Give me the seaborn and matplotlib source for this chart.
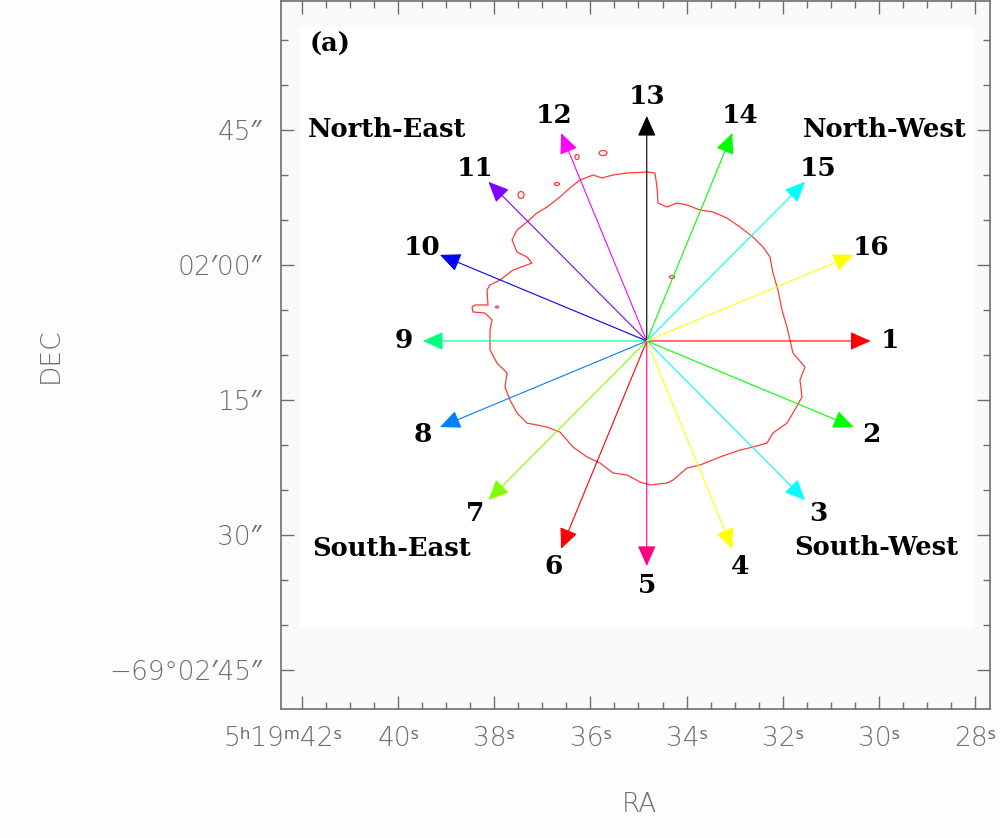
import numpy as np
import pandas as pd
import matplotlib
matplotlib.use("Agg")
import matplotlib.pyplot as plt
import matplotlib.transforms as mtransforms
from matplotlib.patches import Ellipse, Rectangle
import seaborn as sns

# ---- data -------------------------------------------------------------
# contour boundary: RA seconds (5h19m..s) and Dec offset (arcsec) from -69d02m00s
contour_ra = [34.823, 34.657, 34.615, 34.594, 34.407, 34.199, 33.991, 33.720,
              33.450, 33.159, 32.888, 32.618, 32.410, 32.264, 32.202, 32.098,
              32.015, 31.911, 31.848, 31.786, 31.536, 31.640, 31.598, 31.786,
              31.911, 32.202, 32.327, 32.618, 32.888, 33.304, 33.720, 33.991,
              34.282, 34.407, 34.761, 34.969, 35.239, 35.530, 35.801, 36.071,
              36.362, 36.633, 36.903, 37.319, 37.527, 37.673, 37.777, 37.735,
              37.943, 38.089, 38.089, 38.047, 38.193, 38.443, 38.463, 38.401,
              38.131, 38.151, 38.089, 37.881, 37.611, 37.215, 37.319, 37.527,
              37.631, 37.527, 37.319, 37.111, 36.903, 36.633, 36.425, 36.217,
              35.946, 35.759, 35.530, 35.239, 34.823]
contour_dec = [10.33, 10.22, 8.67, 6.89, 6.44, 6.89, 6.67, 6.11,
               5.89, 5.22, 4.22, 3.11, 2.00, 0.89, -0.89, -2.78,
               -5.00, -6.89, -8.33, -9.78, -11.33, -12.78, -14.67, -16.44,
               -17.56, -18.67, -19.78, -20.22, -20.56, -21.33, -22.22, -22.56,
               -23.89, -24.22, -24.44, -24.11, -23.33, -23.11, -22.00, -21.33,
               -20.22, -18.56, -18.00, -17.56, -16.44, -15.00, -13.56, -12.00,
               -10.89, -9.44, -7.22, -6.11, -5.33, -5.22, -4.67, -4.44,
               -4.44, -2.78, -2.22, -1.67, -0.56, 0.22, 0.89, 1.44,
               2.78, 3.89, 4.78, 5.78, 6.44, 7.56, 8.56, 9.44,
               10.00, 9.67, 10.00, 10.22, 10.33]

# small contour islands: centre RA (s), centre Dec (arcsec), width (s), height (arcsec)
island_ra = [35.738, 36.279, 36.695, 37.444, 34.303, 37.943]
island_dec = [12.44, 12.00, 9.00, 7.78, -1.33, -4.67]
island_w = [0.166, 0.083, 0.104, 0.125, 0.104, 0.06]
island_h = [0.56, 0.56, 0.33, 0.78, 0.33, 0.22]

# radial cut directions
centre_ra, centre_dec = 34.828, -8.44
arrow_len = 25.0  # arcsec
arrow_ids = list(range(1, 17))
arrow_pa = [270, 247.5, 225, 202.5, 180, 157.5, 135, 112.5,
            90, 67.5, 45, 22.5, 0, 337.5, 315, 292.5]
arrow_colors = ["#ff0000", "#00ff00", "#00ffff", "#ffff00", "#ff0080", "#ff0000",
                "#80ff00", "#0080ff", "#00ff80", "#0000ff", "#8000ff", "#ff00ff",
                "#000000", "#00ff00", "#00ffff", "#ffff00"]

region_names = ["North-East", "North-West", "South-East", "South-West"]

ra_ticks = [42, 40, 38, 36, 34, 32, 30, 28]
ra_labels = ["5ʰ19ᵐ42ˢ", "40ˢ", "38ˢ", "36ˢ", "34ˢ", "32ˢ", "30ˢ", "28ˢ"]
dec_ticks = [15, 0, -15, -30, -45]
dec_labels = ["45″", "02′00″", "15″", "30″", "−69°02′45″"]

# ---- plot -------------------------------------------------------------
sns.set_theme(style="white")
LABEL_FONTS = ["DejaVu Sans", "Noto Sans", "DejaVu Serif"]
plt.rcParams["font.family"] = LABEL_FONTS

GREY = "#6e6e6e"
fig = plt.figure(figsize=(10, 8.38), dpi=100, facecolor="#fdfdfd")
ax = fig.add_axes([0.281, 0.1539, 0.709, 0.8449])
ax.set_facecolor("#fafafa")
ax.set_xlim(42.437, 27.687)
ax.set_ylim(-49.33, 29.33)

# image footprint
ax.add_patch(Rectangle((28.02, -40.33), 42.04 - 28.02, 26.44 + 40.33,
                       facecolor="white", edgecolor="none", zorder=0))

cos_dec = np.cos(np.deg2rad(69.03))

cont = pd.DataFrame({"ra": contour_ra, "dec": contour_dec})
sns.lineplot(data=cont, x="ra", y="dec", sort=False, estimator=None,
             color="#ff3a3a", lw=0.9, ax=ax, zorder=2)
for xr, yd, w, h in zip(island_ra, island_dec, island_w, island_h):
    ax.add_patch(Ellipse((xr, yd), w, h, fill=False, edgecolor="#ff3a3a", lw=0.9, zorder=2))

for k, pa, col in zip(arrow_ids, arrow_pa, arrow_colors):
    t = np.deg2rad(pa)
    tip = (centre_ra + arrow_len * np.sin(t) / (15 * cos_dec),
           centre_dec + arrow_len * np.cos(t))
    ax.annotate("", xy=tip, xytext=(centre_ra, centre_dec),
                arrowprops=dict(arrowstyle="-|>,head_length=0.85,head_width=0.38",
                                mutation_scale=15, color=col, lw=0.8,
                                shrinkA=0, shrinkB=0), zorder=3)
    r = arrow_len * 1.085
    lab = (centre_ra + r * np.sin(t) / (15 * cos_dec), centre_dec + r * np.cos(t))
    ax.text(lab[0], lab[1], str(k), ha="center", va="center",
            fontsize=19, fontweight="bold", family="DejaVu Serif", color="black")

bold = dict(fontsize=18.5, fontweight="bold", family="DejaVu Serif", color="black",
            ha="center", va="center", transform=ax.transAxes)
ax.text(0.069, 0.938, "(a)", **bold)
for name, (fx, fy) in zip(region_names, [(0.1495, 0.818), (0.852, 0.818),
                                          (0.1566, 0.2274), (0.839, 0.2288)]):
    ax.text(fx, fy, name, **bold)

# axes frame and ticks
for s in ax.spines.values():
    s.set_color(GREY)
    s.set_linewidth(1.2)
ax.set_xticks(ra_ticks)
ax.set_xticklabels(ra_labels)
ax.set_xticks(np.arange(42.0, 27.6, -0.5), minor=True)
ax.set_yticks(dec_ticks)
ax.set_yticklabels(dec_labels)
ax.set_yticks(np.arange(25, -50, -5), minor=True)
ax.tick_params(which="both", direction="in", top=True, right=True, bottom=True, left=True,
               color=GREY, width=1.0, labelcolor=GREY, labelsize=19)
ax.tick_params(which="major", length=9.5)
ax.tick_params(which="minor", length=5)
ax.tick_params(axis="x", which="major", pad=12)
ax.tick_params(axis="y", which="major", pad=14)
for lbl in ax.get_xticklabels() + ax.get_yticklabels():
    lbl.set_fontweight("light")
    lbl.set_family(LABEL_FONTS)

first = ax.get_xticklabels()[0]
first.set_ha("right")
first.set_transform(first.get_transform() +
                    mtransforms.ScaledTranslation(0.40, 0, fig.dpi_scale_trans))

ax.set_xlabel("RA", fontsize=19, color=GREY, fontweight="light")
ax.set_ylabel("DEC", fontsize=19, color=GREY, fontweight="light")
ax.xaxis.set_label_coords(0.506, -0.1172)
ax.yaxis.set_label_coords(-0.3077, 0.5)

fig.savefig("out.png", dpi=100, facecolor=fig.get_facecolor())
